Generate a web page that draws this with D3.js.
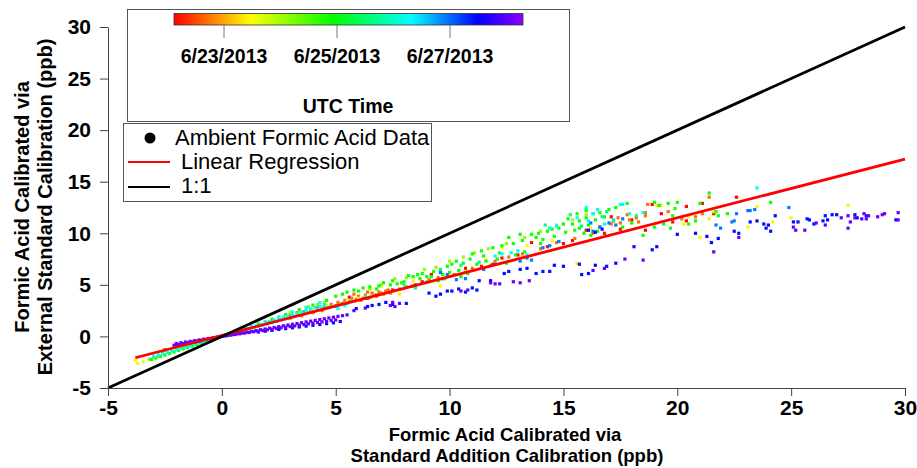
<!DOCTYPE html>
<html>
<head>
<meta charset="utf-8">
<script src="https://cdn.jsdelivr.net/npm/d3@7"></script>
<style>
body { margin: 0; background: #fff; }
svg { font-family: "Liberation Sans", Arial, sans-serif; }
</style>
</head>
<body>
<script>
// axis ticks
var xTicks = [-5, 0, 5, 10, 15, 20, 25, 30];
var yTicks = [-5, 0, 5, 10, 15, 20, 25, 30];
var timeTicks = ["2013-06-23T00:00Z", "2013-06-25T00:00Z", "2013-06-27T00:00Z"];
var timeRange = ["2013-06-22T02:45Z", "2013-06-28T07:00Z"];

// rainbow colour table (fraction of the time range -> colour)
var colorStops = [0, 0.22, 0.456, 0.68, 0.87, 1];
var colorList = ["#ff0000", "#ffff00", "#00ff00", "#00ffff", "#0000ff", "#8c00ff"];

// fit lines
var regression = { slope: 0.57, intercept: 0.1, x0: -3.8, x1: 30 };
var oneToOne = [-5, 30];

// sample times for each group of points
var groupTimes = ["2013-06-22T04:00Z", "2013-06-22T17:00Z", "2013-06-23T10:00Z", "2013-06-24T02:00Z",
  "2013-06-24T20:00Z", "2013-06-25T16:00Z", "2013-06-26T06:00Z", "2013-06-26T22:00Z",
  "2013-06-27T10:00Z", "2013-06-28T02:00Z"];

var redPts = [[-2.5,-1.3],[-1.0,-0.5],[1.0,0.7],[2.0,1.3],[3.0,1.8],[4.0,2.4],[4.5,2.7],[5.2,3.1],[6.0,3.6],
  [6.8,4.0],[7.5,4.5],[8.5,5.0],[9.7,5.6],[10.7,6.6],[11.4,6.8],[12.3,7.6],[13.6,9.1],[14.3,8.7],[15.0,9.0],
  [15.4,9.3],[16.8,10.0],[17.5,10.4],[18.0,11.3],[18.6,10.3],[18.9,12.8],[19.3,11.9],[19.8,11.1],[20.4,12.6],
  [20.4,11.2],[21.1,12.9],[21.6,11.9],[22.6,13.5],[5.6,3.8],[6.4,3.7],[8.8,5.3],[9.2,6.0],[11.9,7.0],[13.0,7.9],
  [16.0,10.3],[17.1,11.6]];

var orangePts = [[3.0,2.1],[3.3,2.3],[3.5,2.0],[3.6,2.4],[3.9,2.6],[4.0,2.3],[4.2,2.8],[4.4,2.5],[4.5,2.9],
  [4.7,2.8],[4.8,3.1],[5.0,3.0],[5.1,3.3],[5.3,3.2],[5.4,3.5],[5.6,3.4],[5.7,3.7],[5.8,4.1],[5.9,3.6],[6.0,3.9],
  [6.1,3.5],[6.2,3.7],[6.3,4.0],[6.4,4.3],[6.5,3.8],[6.6,4.2],[6.7,4.0],[6.8,3.9],[6.9,4.3],[7.0,4.2],[7.1,4.1],
  [7.2,4.4],[7.3,4.5],[7.4,4.2],[7.8,4.6],[8.1,4.8],[8.4,4.9],[9.1,5.5],[9.5,5.7],[10.2,6.0],[11.0,6.6],
  [12.0,7.3],[12.6,7.7],[13.2,8.0],[14.0,8.5],[14.7,9.1],[15.5,9.5],[16.3,10.0],[16.6,10.6],[17.1,10.9],
  [17.2,11.2],[17.4,11.5],[17.5,11.0],[17.8,11.8],[17.9,11.3],[18.2,11.5],[18.3,11.1],[18.6,11.7],[18.6,12.0],
  [18.7,12.8],[19.6,12.1],[20.2,11.4],[20.8,11.6],[21.1,11.9],[21.4,13.5]];

var yellowPts = [[-3.7,-2.6],[-3.45,-2.45],[-3.8,-2.3],[4.6,3.0],[5.5,3.3],[6.0,3.7],[7.0,4.9],[7.8,4.1],
  [8.4,5.4],[9.6,4.9],[10.7,6.3],[11.6,7.4],[12.3,8.6],[13.4,8.8],[14.5,9.3],[15.6,7.1],[16.2,10.5],[17.0,9.8],
  [18.4,10.6],[19.1,12.7],[19.3,12.7],[20.3,10.9],[20.5,11.6],[21.0,9.6],[21.4,11.4],[21.6,12.1],[23.1,10.6],
  [23.5,12.6],[24.2,11.1],[25.0,11.5],[27.5,12.7]];

var limePts = [[-3.2,-2.2],[-3.0,-2.05],[-2.8,-1.95],[3.0,2.3],[3.4,2.6],[3.8,2.9],[4.2,3.1],[4.5,3.3],
  [6.5,4.6],[7.0,5.0],[7.6,5.6],[8.1,5.7],[8.9,6.5],[9.4,6.7],[10.0,7.3],[10.6,7.7],[11.1,8.1],[11.7,8.5],
  [12.5,9.0],[13.3,9.6],[14.0,10.2],[14.7,10.8],[15.4,11.3],[16.0,11.8]];

var greenPts = [[-3.1,-2.23],[-2.9,-2.09],[-2.7,-1.94],[-2.5,-1.8],[-2.3,-1.66],[-2.1,-1.51],[-1.9,-1.37],
  [-1.7,-1.22],[-1.5,-1.08],[-1.3,-0.94],[-1.1,-0.79],[-0.9,-0.65],[-0.7,-0.5],[-0.5,-0.36],[-0.3,-0.22],
  [1.0,0.76],[1.6,1.22],[2.2,1.67],[2.8,2.13],[3.4,2.58],[4.0,3.04],[4.6,3.5],
  [5.0,3.9],[5.3,4.1],[5.5,4.3],[5.8,4.5],[6.0,4.4],[6.2,4.7],[6.5,4.8],[6.8,4.6],[6.9,4.9],[7.1,5.2],[7.4,5.0],
  [7.5,5.4],[7.7,5.1],[7.9,5.2],[8.2,5.9],[8.4,5.8],[8.6,6.0],[8.8,6.1],[9.0,5.8],[9.3,6.3],[9.6,6.5],[9.9,6.8],
  [10.1,7.0],[10.3,7.3],[8.0,5.3],[8.7,5.6],[9.2,5.8],[9.7,6.0],[10.0,6.2],[10.4,6.4],[9.5,5.4],[10.5,5.8],
  [10.8,6.1],[11.0,8.0],[11.4,8.3],[11.9,8.6],[12.3,8.8],[12.8,9.0],[13.2,9.3],[12.6,9.6],[13.1,9.9],[10.9,7.5],
  [11.2,7.0],[11.6,7.3],[11.8,6.9],[12.1,7.5],[12.5,7.1],[12.9,7.9],[13.3,8.2],[10.6,7.1],[11.5,7.8],[12.2,8.1],
  [13.6,9.9],[13.9,10.0],[14.3,10.2],[14.5,10.4],[14.8,10.5],[15.4,10.9],[15.7,11.2],[16.0,11.5],[16.3,11.9],
  [15.0,10.9],[15.2,11.4],[15.6,11.9],[16.0,12.2],[16.6,12.0],[14.1,9.4],[14.6,9.7],[15.1,10.1],[15.5,10.3],
  [15.9,10.0],[16.2,9.8],[16.5,10.2],[15.7,10.5],[16.1,10.8],[14.0,9.0],[13.8,9.6],[16.8,11.6],[17.0,12.3],
  [16.4,11.3],[17.3,12.5],[17.8,12.9],[18.5,9.8],[19.0,10.6],[19.0,13.0],[19.2,12.7],[19.4,10.9],[19.6,12.9],
  [19.7,10.5],[19.8,11.7],[19.9,12.4],[20.0,13.0],[20.5,10.9],[20.8,11.2],[21.0,12.9],[21.4,13.9],[21.7,12.1],
  [21.8,11.7],[22.2,11.9],[24.1,13.0],[18.0,11.0],[17.6,10.6]];

var springPts = [[0.2,0.12],[0.4,0.24],[0.6,0.37],[0.8,0.49],[1.0,0.61],[1.2,0.73],[1.4,0.85],[1.6,0.98],
  [1.8,1.1],[2.0,1.22],[2.2,1.34],[2.4,1.46],[2.6,1.59],[2.8,1.71],[3.0,1.83],[3.2,1.95],[3.4,2.07],[3.6,2.2],
  [3.8,2.32],[4.0,2.44],[4.2,2.56],[4.4,2.68],[4.6,2.81],[4.8,2.93],
  [5.0,2.9],[5.2,3.1],[5.5,3.2],[5.7,3.4],[6.3,3.9],[8.0,5.0],[8.5,4.7],[9.0,5.3],[9.8,5.6],[10.5,6.9],
  [11.3,7.2],[14.2,10.8],[15.3,11.8],[15.8,10.7],[16.7,11.6],[16.9,12.1],[17.2,11.3],[18.2,11.7]];

var cyanPts = [[-3.0,-1.92],[-2.8,-1.79],[-2.6,-1.66],[-2.4,-1.54],[-2.2,-1.41],[-2.0,-1.28],[-1.8,-1.15],
  [-1.6,-1.02],[-1.4,-0.9],[-1.2,-0.77],[-1.0,-0.64],[-0.8,-0.51],[-0.6,-0.38],[-0.4,-0.26],[-0.2,-0.13],
  [0.1,0.07],[0.3,0.2],[0.5,0.34],[0.7,0.48],[0.9,0.61],[1.1,0.75],[1.3,0.88],[1.5,1.02],[1.7,1.16],[1.9,1.29],
  [2.1,1.43],[2.3,1.56],[2.5,1.7],[2.7,1.84],[2.9,1.97],[3.1,2.11],[3.3,2.24],[3.5,2.38],[3.7,2.52],[3.9,2.65],
  [4.1,2.79],[4.3,2.92],[4.5,3.06],
  [1.3,0.99],[1.9,1.44],[2.5,1.9],[3.1,2.36],[3.7,2.81],[4.3,3.27],
  [5.1,2.7],[5.4,3.0],[9.6,6.3],[12.0,7.8],[12.3,8.0],[12.7,8.1],[13.0,8.3],[13.4,7.9],[14.4,10.5],[14.7,10.7],
  [15.6,11.5],[16.1,11.2],[16.3,11.9],[16.5,12.3],[16.0,12.5],[16.8,10.9],[17.5,12.8],[17.6,12.8],[17.9,11.9],
  [18.5,12.0],[23.5,14.4]];

var azurePts = [[9.6,6.2],[9.9,6.0],[10.3,5.5],[10.7,5.6],[11.5,6.5],[12.0,7.0],[13.1,7.3],[13.4,7.6],
  [13.6,7.4],[14.1,8.6],[14.4,8.8],[14.8,9.2],[16.2,11.0],[16.3,10.2],[16.6,10.6],[17.0,11.0],[17.3,10.8],
  [17.6,11.4],[21.7,10.8],[21.9,10.5],[22.4,11.1],[22.5,11.2],[22.6,11.9],[23.1,12.2],[23.2,12.2],[23.4,12.3],
  [24.9,12.5]];

var bluePts = [[1.6,0.43],[1.9,0.51],[2.2,0.59],[2.5,0.68],[2.8,0.76],[3.1,0.84],[3.4,0.92],[3.7,1.0],
  [4.0,1.08],[4.3,1.16],[4.6,1.24],[4.9,1.32],[5.2,1.45],
  [5.9,2.7],[6.4,2.9],[6.6,3.0],[6.9,3.1],[7.2,3.3],[7.5,3.1],[8.1,3.2],[9.1,4.2],[9.4,3.9],[9.6,4.1],[9.9,4.4],
  [10.1,4.4],[10.4,4.6],[10.7,4.3],[11.0,4.7],[11.2,4.5],[11.3,5.4],[11.8,5.4],[12.4,6.1],[12.6,6.3],[13.1,6.5],
  [13.4,6.6],[13.8,6.1],[14.1,6.3],[14.4,6.3],[14.6,6.9],[15.0,6.8],[15.7,7.0],[15.8,6.0],[16.1,6.1],[16.4,6.9],
  [16.9,6.8],[17.3,7.1],[16.1,10.3],[16.4,10.1],[16.7,10.4],[18.1,8.7],[18.9,8.4],[19.1,8.7],[20.0,9.9],
  [20.8,10.0],[21.3,9.7],[21.5,9.1],[21.8,9.5],[22.5,10.2],[22.7,10.0],[23.2,11.1],[23.5,11.2],[23.8,10.9],
  [23.9,10.5],[24.0,10.8],[24.1,10.2],[24.3,11.7],[25.1,11.1],[25.3,11.1],[25.7,11.4],[25.8,11.3],[26.0,10.9],
  [26.4,11.2],[26.5,11.7],[26.6,11.3],[26.8,11.8],[27.0,11.8],[27.8,11.8],[27.9,11.5],[28.3,11.7],[29.6,11.3]];

var violetPts = [[-2.0,-0.94],[-1.8,-0.83],[-1.6,-0.74],[-1.4,-0.64],[-1.2,-0.55],[-1.0,-0.46],
  [-2.1,-0.86],[-1.9,-0.78],[-1.7,-0.7],[-1.5,-0.62],[-1.3,-0.53],[-1.1,-0.45],[-0.9,-0.37],[-0.7,-0.29],
  [-0.5,-0.21],[-0.3,-0.12],[-0.1,-0.04],[0.1,0.04],[0.3,0.11],[0.5,0.19],[0.7,0.27],[0.9,0.34],[1.1,0.42],
  [1.3,0.49],[1.5,0.57],[1.7,0.65],[1.9,0.72],[2.1,0.8],[2.3,0.87],[2.5,0.95],[2.7,1.03],[2.9,1.1],[3.1,1.18],
  [3.3,1.25],[3.5,1.33],[3.7,1.41],[3.9,1.48],[4.1,1.56],[4.3,1.63],[4.5,1.71],[4.7,1.79],[4.9,1.86],[5.1,1.94],
  [5.3,2.01],[5.5,2.09],
  [-2.0,-0.68],[-1.8,-0.61],[-1.6,-0.54],[-1.4,-0.48],[-1.2,-0.41],[-1.0,-0.34],[-0.8,-0.27],[-0.6,-0.2],
  [-0.4,-0.14],[-0.2,-0.07],[0.0,0.0],[0.2,0.06],[0.4,0.13],[0.6,0.19],[0.8,0.26],[1.0,0.32],[1.2,0.38],
  [1.4,0.45],[1.6,0.51],[1.8,0.58],[2.0,0.64],[2.2,0.7],[2.4,0.77],[2.6,0.83],[2.8,0.9],[3.0,0.96],[3.2,1.02],
  [3.4,1.09],[3.6,1.15],[3.8,1.22],[4.0,1.28],[4.2,1.34],[4.4,1.41],[4.6,1.47],[4.8,1.54],[5.0,1.6],
  [5.8,2.5],[6.3,2.75],[7.4,3.0],[7.6,2.9],[7.8,3.2],[7.5,3.3],[10.5,4.4],[10.8,4.5],[11.8,5.2],[12.0,5.1],
  [12.2,5.1],[12.8,5.3],[13.1,5.2],[13.5,5.4],[16.3,6.4],[16.8,6.6],[17.7,7.5],[18.5,7.4],[21.6,8.2],[22.7,9.6],
  [25.1,10.6],[25.2,10.3],[25.6,10.3],[26.1,11.0],[26.5,10.8],[27.2,11.5],[27.5,11.7],[27.5,10.5],[27.6,11.1],
  [27.8,11.5],[28.1,11.4],[28.2,11.9],[28.3,11.4],[28.4,11.7],[28.8,11.6],[29.0,11.8],[29.1,11.9],[29.7,12.0],
  [29.7,11.3]];

var pointGroups = [redPts, orangePts, yellowPts, limePts, greenPts, springPts, cyanPts, azurePts, bluePts, violetPts];

var width = 917, height = 468;
var svg = d3.select("body").append("svg").attr("width", width).attr("height", height);

var x = d3.scaleLinear().domain([-5, 30]).range([108, 905]);
var y = d3.scaleLinear().domain([-5, 30]).range([388, 27]);

var t0 = new Date(timeRange[0]), t1 = new Date(timeRange[1]);
var tScale = d3.scaleTime().domain([t0, t1]).range([174, 523]);
var color = d3.scaleLinear()
  .domain(colorStops.map(function(f) { return +t0 + f * (t1 - t0); }))
  .range(colorList);

// scatter points, drawn in time order
var size = 3.2;
pointGroups.forEach(function(pts, i) {
  var c = color(new Date(groupTimes[i]));
  svg.append("g").selectAll("rect").data(pts).enter().append("rect")
    .attr("x", function(d) { return x(d[0]) - size / 2; })
    .attr("y", function(d) { return y(d[1]) - size / 2; })
    .attr("width", size).attr("height", size)
    .attr("fill", c);
});

// regression and 1:1 lines
svg.append("line")
  .attr("x1", x(regression.x0)).attr("y1", y(regression.slope * regression.x0 + regression.intercept))
  .attr("x2", x(regression.x1)).attr("y2", y(regression.slope * regression.x1 + regression.intercept))
  .attr("stroke", "#ff0000").attr("stroke-width", 2.8);
svg.append("line")
  .attr("x1", x(oneToOne[0])).attr("y1", y(oneToOne[0]))
  .attr("x2", x(oneToOne[1])).attr("y2", y(oneToOne[1]))
  .attr("stroke", "#000").attr("stroke-width", 2.8);

// axes
var plain = function(d) { return String(d); };
var xAxis = svg.append("g").attr("transform", "translate(0,388)")
  .call(d3.axisBottom(x).tickValues(xTicks).tickFormat(plain).tickSize(8).tickSizeOuter(0).tickPadding(4));
var yAxis = svg.append("g").attr("transform", "translate(108,0)")
  .call(d3.axisLeft(y).tickValues(yTicks).tickFormat(plain).tickSize(8).tickSizeOuter(0).tickPadding(9));
[xAxis, yAxis].forEach(function(a) {
  a.select(".domain").attr("stroke", "#444");
  a.selectAll(".tick line").attr("stroke", "#444");
  a.selectAll(".tick text").attr("fill", "#000").style("font-size", "21px").style("font-weight", "bold")
    .style("font-family", "'Liberation Sans', Arial, sans-serif");
});

// axis titles
svg.append("text").attr("x", 505).attr("y", 441).attr("text-anchor", "middle")
  .style("font-size", "18.5px").style("font-weight", "bold").text("Formic Acid Calibrated via");
svg.append("text").attr("x", 507).attr("y", 462).attr("text-anchor", "middle")
  .style("font-size", "18.5px").style("font-weight", "bold").text("Standard Addition Calibration (ppb)");
svg.append("text").attr("transform", "translate(29,207) rotate(-90)").attr("text-anchor", "middle")
  .style("font-size", "20px").style("font-weight", "bold").text("Formic Acid Calibrated via");
svg.append("text").attr("transform", "translate(52,207) rotate(-90)").attr("text-anchor", "middle")
  .style("font-size", "20px").style("font-weight", "bold").text("External Standard Calibration (ppb)");

// colour bar box
svg.append("rect").attr("x", 127.5).attr("y", 9.5).attr("width", 442).attr("height", 112)
  .attr("fill", "#fff").attr("stroke", "#555");
var grad = svg.append("defs").append("linearGradient").attr("id", "rainbow");
grad.selectAll("stop").data(colorStops).enter().append("stop")
  .attr("offset", function(d) { return d; })
  .attr("stop-color", function(d, i) { return colorList[i]; });
svg.append("rect").attr("x", tScale.range()[0]).attr("y", 13.5)
  .attr("width", tScale.range()[1] - tScale.range()[0]).attr("height", 11.5)
  .attr("fill", "url(#rainbow)").attr("stroke", "#333").attr("stroke-width", 0.8);
var fmt = d3.utcFormat("%-m/%-d/%Y");
var cb = svg.append("g");
timeTicks.forEach(function(s) {
  var tx = tScale(new Date(s));
  cb.append("line").attr("x1", tx).attr("x2", tx).attr("y1", 25).attr("y2", 38)
    .attr("stroke", "#777").attr("stroke-width", 1);
  cb.append("text").attr("x", tx).attr("y", 63).attr("text-anchor", "middle")
    .style("font-size", "19.5px").style("font-weight", "bold").text(fmt(new Date(s)));
});
svg.append("text").attr("x", 348).attr("y", 113).attr("text-anchor", "middle")
  .style("font-size", "19.5px").style("font-weight", "bold").text("UTC Time");

// legend box
svg.append("rect").attr("x", 123.5).attr("y", 123.5).attr("width", 308).attr("height", 78)
  .attr("fill", "#fff").attr("stroke", "#555");
svg.append("circle").attr("cx", 150).attr("cy", 138).attr("r", 5.5).attr("fill", "#000");
svg.append("text").attr("x", 175).attr("y", 145).style("font-size", "22px").text("Ambient Formic Acid Data");
svg.append("line").attr("x1", 128).attr("x2", 170).attr("y1", 162).attr("y2", 162)
  .attr("stroke", "#ff0000").attr("stroke-width", 2);
svg.append("text").attr("x", 181).attr("y", 169).style("font-size", "22px").text("Linear Regression");
svg.append("line").attr("x1", 128).attr("x2", 170).attr("y1", 187).attr("y2", 187)
  .attr("stroke", "#000").attr("stroke-width", 2);
svg.append("text").attr("x", 181).attr("y", 193).style("font-size", "22px").text("1:1");
</script>
</body>
</html>
